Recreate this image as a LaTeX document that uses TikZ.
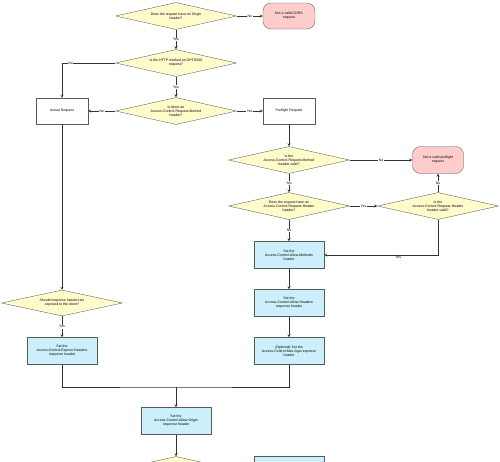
\documentclass[tikz,border=0pt]{standalone}
\usepackage{fontspec}
\setmainfont{Liberation Sans}
\usetikzlibrary{shapes, arrows, positioning, calc}
\newcommand{\flowfont}{\fontsize{3.5}{4}\selectfont}
\tikzset{
    decision/.style={diamond, draw=black!65, fill=yellow!20, aspect=4.5, minimum width=121pt, minimum height=27pt, inner sep=0pt, align=center, font=\flowfont},
    process/.style={rectangle, draw=black!65, fill=white, minimum width=52pt, minimum height=26pt, align=center, font=\flowfont},
    header/.style={process, fill=cyan!20, minimum width=70pt, minimum height=27pt},
    terminal/.style={process, fill=red!20, rounded corners=8pt},
    arrow/.style={->, >=stealth, draw=black!80},
    answer/.style={fill=white, inner sep=0.6pt, font=\flowfont}
}

\begin{document}
\begin{tikzpicture}[x=1pt, y=-1pt, line width=0.35pt]
    \useasboundingbox (0,0) rectangle (500,461);
    \clip (0,0) rectangle (500,461);

    % main column
    \node[decision] (origin) at (176,16) {Does the request have an Origin\\header?};
    \node[terminal] (cors) at (289,16) {Not a valid CORS\\request};
    \node[decision] (options) at (176,63) {Is the HTTP method an OPTIONS\\request?};
    \node[decision] (acrm) at (176,111) {Is there an\\Access-Control-Request-Method\\header?};
    \node[process] (actual) at (62,111) {Actual Request};
    \node[process] (preflight) at (289,111) {Preflight Request};

    % preflight checks
    \node[decision] (methodok) at (289,160) {Is the\\Access-Control-Request-Method\\header valid?};
    \node[terminal, minimum width=51pt, minimum height=27pt] (badpre) at (438,160) {Not a valid preflight\\request};
    \node[decision] (hasacrh) at (289,206) {Does the request have an\\Access-Control-Request-Header\\header?};
    \node[decision] (headerok) at (438,206) {Is the\\Access-Control-Request-Header\\header valid?};
    \node[header] (methods) at (289,255) {Set the\\Access-Control-Allow-Methods\\header};
    \node[header] (headers) at (289,303) {Set the\\Access-Control-Allow-Headers\\response header};
    \node[header] (maxage) at (289,351) {(Optional) Set the\\Access-Control-Max-Age response\\header};

    % actual request
    \node[decision, minimum height=26pt] (exposed) at (62,303) {Should response headers be\\exposed to the client?};
    \node[header] (expose) at (62,351) {Set the\\Access-Control-Expose-Headers\\response header};

    \coordinate (join) at (176,387);
    \node[header] (allow) at (176,421) {Set the\\Access-Control-Allow-Origin\\response header};
    \node[decision] (next) at (176,470) {};
    \node[header] (nextbox) at (289,470) {};

    \draw[arrow] (origin) -- node[answer] {No} (cors);
    \draw[arrow] (origin) -- node[answer] {Yes} (options);
    \draw[arrow] (options.west) -| node[answer, pos=0.42] {No} (actual);
    \draw[arrow] (options) -- node[answer] {Yes} (acrm);
    \draw[arrow] (acrm) -- node[answer] {No} (actual);
    \draw[arrow] (acrm) -- node[answer] {Yes} (preflight);
    \draw[arrow] (preflight) -- (methodok);
    \draw[arrow] (methodok) -- node[answer] {No} (badpre);
    \draw[arrow] (methodok) -- node[answer] {Yes} (hasacrh);
    \draw[arrow] (hasacrh) -- node[answer] {Yes} (headerok);
    \draw[arrow] (headerok) -- node[answer] {No} (badpre);
    \draw[arrow] (headerok.south) |- node[answer, below, fill=none, pos=0.675] {Yes} (methods);
    \draw[arrow] (hasacrh) -- node[answer] {No} (methods);
    \draw[arrow] (methods) -- (headers);
    \draw[arrow] (headers) -- (maxage);
    \draw[arrow] (actual) -- (exposed);
    \draw[arrow] (exposed) -- node[answer] {Yes} (expose);
    \draw[draw=black!80] (expose.south) |- (join) -| (maxage.south);
    \draw[arrow] (join) -- (allow);
    \draw[arrow] (allow) -- (next);
\end{tikzpicture}
\end{document}
